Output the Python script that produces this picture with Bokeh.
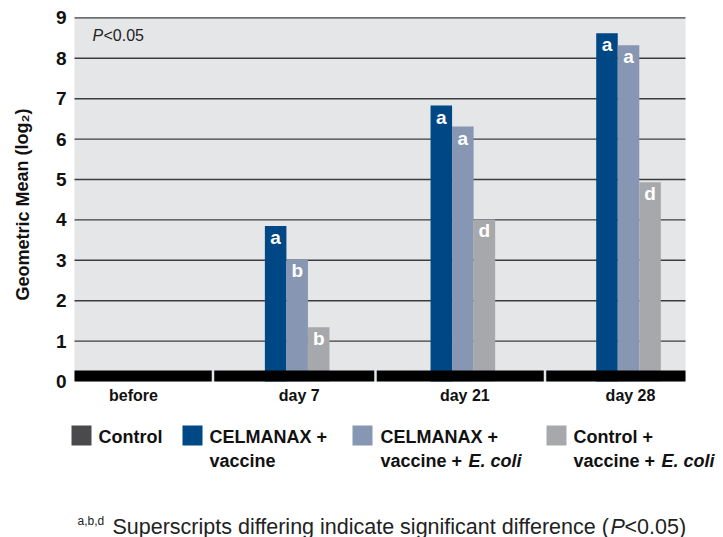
from bokeh.plotting import figure
from bokeh.models import Range1d
from bokeh.core.properties import value
from bokeh.embed import file_html
from bokeh.resources import INLINE

# ---------------- data ----------------
categories = ["before", "day 7", "day 21", "day 28"]
control = [0, 0, 0, 0]
celmanax_vaccine = [0, 3.85, 6.83, 8.62]
celmanax_vaccine_ecoli = [0, 3.02, 6.31, 8.32]
control_vaccine_ecoli = [0, 1.34, 4.01, 4.93]
letters_celmanax_vaccine = ["", "a", "a", "a"]
letters_celmanax_vaccine_ecoli = ["", "b", "a", "a"]
letters_control_vaccine_ecoli = ["", "b", "d", "d"]
y_ticks = [0, 1, 2, 3, 4, 5, 6, 7, 8, 9]
series_names = ["Control", "CELMANAX +", "CELMANAX +", "Control +"]
series_second = ["", "vaccine", "vaccine + ", "vaccine + "]
series_italic = ["", "", "E. coli", "E. coli"]
colors = ["#4a4a4c", "#004785", "#8796b3", "#a7a8ab"]

# ---------------- layout ----------------
W, H = 723, 537
PXX = 165.67          # px per category
PXY = 40.4            # px per unit
CX0 = 133             # px of first category centre
Y0 = 381              # px of value 0

def xd(px):
    return (px - CX0) / PXX

def yd(px):
    return (Y0 - px) / PXY

p = figure(width=W, height=H, output_backend="svg", toolbar_location=None,
           x_range=Range1d(xd(0), xd(W)), y_range=Range1d(yd(H), yd(0)),
           min_border_left=0, min_border_right=0, min_border_top=0,
           min_border_bottom=0)
p.axis.visible = False
p.grid.visible = False
p.outline_line_color = None
p.background_fill_color = "white"
p.border_fill_color = "white"

FONT = value("Liberation Sans")
idx = list(range(len(categories)))

# plot background
bg_l, bg_r = xd(74), xd(685)
p.quad(left=[bg_l], right=[bg_r], bottom=[0], top=[y_ticks[-1]],
       fill_color="#e5e6e8", line_color=None)

# gridlines
gl = y_ticks[1:]
p.segment(x0=[bg_l] * len(gl), x1=[bg_r] * len(gl), y0=gl, y1=gl,
          line_color="#3c3c3c", line_width=1.4)

# bars
BW = 0.13
shift = -0.012
offsets = [-0.26 + shift, -0.13 + shift, 0.0 + shift, 0.13 + shift]
all_series = [control, celmanax_vaccine, celmanax_vaccine_ecoli, control_vaccine_ecoli]
for s, off, col in zip(all_series, offsets, colors):
    if max(s) == 0:
        continue
    p.vbar(x=[i + off for i in idx], top=s, bottom=0, width=BW,
           fill_color=col, line_color=None)

for s, lt, off in zip(all_series[1:],
                      [letters_celmanax_vaccine, letters_celmanax_vaccine_ecoli,
                       letters_control_vaccine_ecoli], offsets[1:]):
    p.text(x=[i + off for i in idx], y=s, text=lt, text_color="white",
           text_font=FONT, text_font_style="bold", text_font_size="19px",
           text_align="center", text_baseline="top", y_offset=1)

# black band under bars, split per category
bounds = [bg_l, xd(212.5), xd(375), xd(544.5), bg_r]
gap = 1.25 / PXX
lefts = [bounds[0]] + [b + gap for b in bounds[1:-1]]
rights = [b - gap for b in bounds[1:-1]] + [bounds[-1]]
p.quad(left=lefts, right=rights, bottom=[0] * 4, top=[11 / PXY] * 4,
       fill_color="black", line_color=None)

# category labels
p.text(x=idx, y=[yd(395)] * 4, text=categories, text_font=FONT,
       text_font_style="bold", text_font_size="16px", text_align="center",
       text_baseline="middle", text_color="#111111")

# y tick labels
p.text(x=[xd(66)] * len(y_ticks), y=y_ticks, text=[str(t) for t in y_ticks],
       text_font=FONT, text_font_style="bold", text_font_size="19px",
       text_align="right", text_baseline="middle", text_color="#111111")

# y title
p.text(x=[xd(22)], y=[yd(204)], text=["Geometric Mean (log₂)"],
       text_font=FONT, text_font_style="bold", text_font_size="18px",
       text_align="center", text_baseline="middle", angle=1.5708,
       text_color="#111111")

# P<0.05 note
p.text(x=[xd(92)], y=[yd(35)], text=["P"], text_font=FONT,
       text_font_style="italic", text_font_size="16px", text_baseline="middle",
       text_color="#222222")
p.text(x=[xd(92)], y=[yd(35)], text=["<0.05"], text_font=FONT,
       text_font_size="16px", text_baseline="middle", x_offset=11,
       text_color="#222222")

# legend
sq_x = [xd(81), xd(192), xd(362), xd(556)]
tx_x = [xd(98), xd(209), xd(380), xd(573)]
ly1, ly2 = yd(436), yd(460)
p.rect(x=sq_x, y=[yd(435)] * 4, width=20, height=20, width_units="screen",
       height_units="screen", fill_color=colors, line_color=None)
p.text(x=tx_x, y=[ly1] * 4, text=series_names, text_font=FONT,
       text_font_style="bold", text_font_size="18px", text_baseline="middle",
       text_color="#111111")
p.text(x=tx_x, y=[ly2] * 4, text=series_second, text_font=FONT,
       text_font_style="bold", text_font_size="18px", text_baseline="middle",
       text_color="#111111")
p.text(x=tx_x, y=[ly2] * 4, text=series_italic, text_font=FONT,
       text_font_style="bold italic", text_font_size="18px",
       text_baseline="middle", x_offset=88, text_color="#111111")

# footnote
fy = yd(526)
p.text(x=[xd(77)], y=[fy], text=["a,b,d"], text_font=FONT,
       text_font_size="12px", text_baseline="middle", y_offset=-6,
       text_color="#222222")
p.text(x=[xd(112)], y=[fy], text=["Superscripts differing indicate significant difference ("],
       text_font=FONT, text_font_size="21.5px", text_baseline="middle",
       text_color="#222222")
p.text(x=[xd(112)], y=[fy], text=["P"], text_font=FONT,
       text_font_style="italic", text_font_size="21.5px", text_baseline="middle",
       x_offset=498, text_color="#222222")
p.text(x=[xd(112)], y=[fy], text=["<0.05)"], text_font=FONT,
       text_font_size="21.5px", text_baseline="middle", x_offset=512,
       text_color="#222222")

open("out.html", "w").write(file_html(p, INLINE))
